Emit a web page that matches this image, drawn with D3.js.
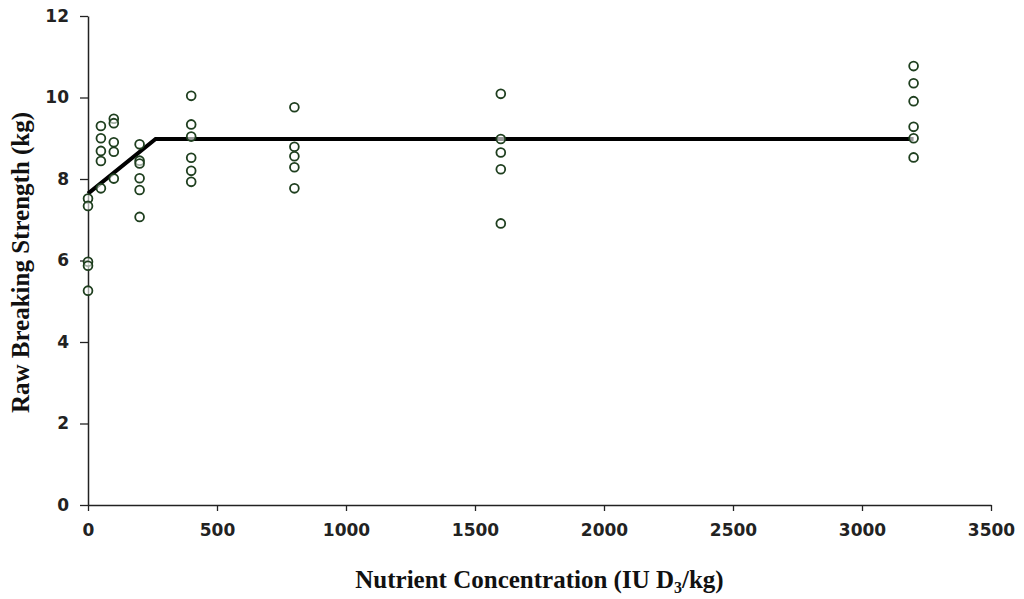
<!DOCTYPE html>
<html>
<head>
<meta charset="utf-8">
<script src="https://cdn.jsdelivr.net/npm/d3@7"></script>
<style>
  body { margin: 0; background: #fff; }
  svg { display: block; }
</style>
</head>
<body>
<svg id="chart" width="1024" height="599"></svg>
<script>
// dose groups (IU D3/kg) and the observed breaking strengths per group
const doses = [0, 50, 100, 200, 400, 800, 1600, 3200];
const strengths = [
    [7.52, 7.34, 5.97, 5.87, 5.26],
    [9.30, 9.00, 8.69, 8.44, 7.77],
    [9.48, 9.37, 8.90, 8.67, 8.01],
    [8.85, 8.45, 8.38, 8.02, 7.73, 7.07],
    [10.04, 9.34, 9.04, 8.52, 8.20, 7.93],
    [9.76, 8.79, 8.56, 8.29, 7.77],
    [10.09, 8.98, 8.65, 8.24, 6.91],
    [10.77, 10.35, 9.91, 9.28, 9.00, 8.53]
];
// broken-line fit
const fitX = [0, 262, 3200];
const fitY = [7.64, 8.98, 8.98];

const xTicks = [0, 500, 1000, 1500, 2000, 2500, 3000, 3500];
const yTicks = [0, 2, 4, 6, 8, 10, 12];

const svg = d3.select('#chart');
const margin = { left: 88, right: 33, top: 16, bottom: 94 };
const width = 1024, height = 599;

const x = d3.scaleLinear().domain([0, 3500]).range([margin.left, width - margin.right]);
const y = d3.scaleLinear().domain([0, 12]).range([height - margin.bottom, margin.top]);

const tickFont = '"DejaVu Sans", Verdana, sans-serif';

// x axis
const gx = svg.append('g')
    .attr('transform', `translate(0,${y(0)})`)
    .call(d3.axisBottom(x).tickValues(xTicks).tickFormat(d3.format('d'))
        .tickSize(6).tickPadding(13).tickSizeOuter(0));
// y axis
const gy = svg.append('g')
    .attr('transform', `translate(${x(0)},0)`)
    .call(d3.axisLeft(y).tickValues(yTicks).tickFormat(d3.format('d'))
        .tickSize(8).tickPadding(11).tickSizeOuter(0));

[gx, gy].forEach(g => {
    g.select('.domain').attr('stroke', '#222').attr('stroke-width', 1.5);
    g.selectAll('.tick line').attr('stroke', '#222').attr('stroke-width', 1.3);
    g.selectAll('.tick text')
        .attr('font-family', tickFont)
        .attr('font-weight', 'bold')
        .attr('font-size', 17)
        .attr('fill', '#222');
});

// fitted line
const lineData = fitX.map((d, i) => [d, fitY[i]]);
svg.append('path')
    .datum(lineData)
    .attr('fill', 'none')
    .attr('stroke', '#000')
    .attr('stroke-width', 4)
    .attr('d', d3.line().x(d => x(d[0])).y(d => y(d[1])));

// observations
const points = [];
doses.forEach((d, i) => strengths[i].forEach(v => points.push({ dose: d, value: v })));

svg.append('g')
    .selectAll('circle')
    .data(points)
    .enter()
    .append('circle')
    .attr('cx', d => x(d.dose))
    .attr('cy', d => y(d.value))
    .attr('r', 4.4)
    .attr('fill', '#fff')
    .attr('fill-opacity', 0.6)
    .attr('stroke', '#1f3f1f')
    .attr('stroke-width', 1.8);

// axis titles
const titleFont = '"Liberation Serif", "Times New Roman", serif';
const xTitle = svg.append('text')
    .attr('x', (x(0) + x(3500)) / 2)
    .attr('y', 588)
    .attr('text-anchor', 'middle')
    .attr('font-family', titleFont)
    .attr('font-weight', 'bold')
    .attr('font-size', 25)
    .attr('fill', '#111');
xTitle.append('tspan').text('Nutrient Concentration (IU D');
xTitle.append('tspan').attr('font-size', 16).attr('dy', 5).text('3');
xTitle.append('tspan').attr('dy', -5).text('/kg)');

svg.append('text')
    .attr('transform', `translate(29,${(y(0) + y(12)) / 2 + 2}) rotate(-90)`)
    .attr('text-anchor', 'middle')
    .attr('font-family', titleFont)
    .attr('font-weight', 'bold')
    .attr('font-size', 25)
    .attr('fill', '#111')
    .text('Raw Breaking Strength (kg)');
</script>
</body>
</html>
